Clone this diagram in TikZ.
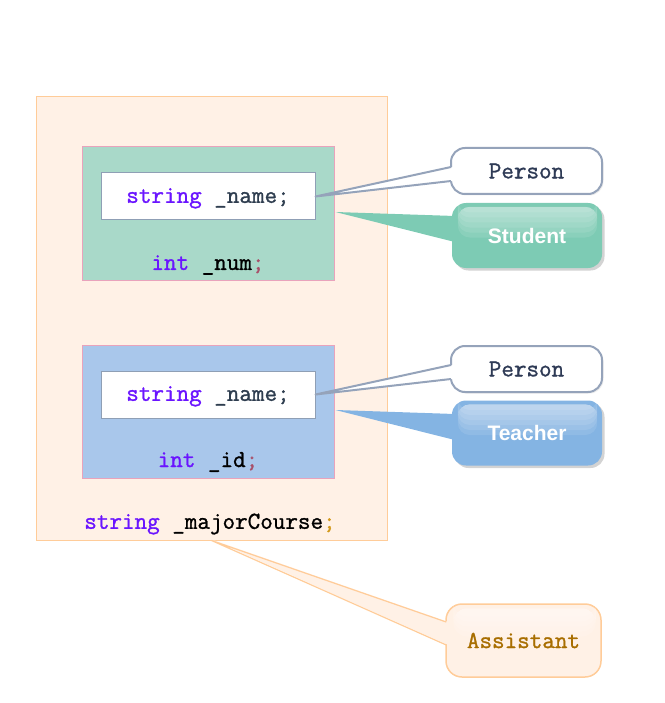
\documentclass[tikz,border=0pt]{standalone}
\usepackage{fontspec}
\setmainfont{Liberation Sans}
\newfontfamily\codefont{Latin Modern Mono}[FakeBold=1.2]
\usepackage{tikz}
\usetikzlibrary{calc,shadows}

\definecolor{kwpurple}{HTML}{6A14FF}
\definecolor{namegray}{HTML}{2E3D4F}
\definecolor{semired}{HTML}{A8506A}
\definecolor{semigold}{HTML}{D39A1C}
\definecolor{outerfill}{HTML}{FFF1E6}
\definecolor{outerline}{HTML}{FFCC99}
\definecolor{boxpink}{HTML}{E9A3BC}
\definecolor{stufill}{HTML}{A9D9C9}
\definecolor{teafill}{HTML}{A9C7EB}
\definecolor{fieldline}{HTML}{8F9FB5}
\definecolor{personline}{HTML}{95A3BA}
\definecolor{persontext}{HTML}{2E3A55}
\definecolor{stububble}{HTML}{7DCBB4}
\definecolor{teabubble}{HTML}{84B4E3}
\definecolor{asstext}{HTML}{A86E00}

\newcommand{\kw}[1]{\textcolor{kwpurple}{#1}}

\begin{document}
\begin{tikzpicture}[x=1pt, y=-1pt,
  code/.style={font=\codefont\fontsize{24.4}{28}\selectfont, inner sep=0pt},
  classbox/.style={draw=boxpink, line width=1pt, minimum width=252pt, minimum height=133pt},
  fieldbox/.style={draw=fieldline, fill=white, line width=1pt, minimum width=214pt, minimum height=47pt,
    code, text depth=2pt},
  bubble/.style={rounded corners=14pt, minimum width=150pt, minimum height=65pt,
    drop shadow={shadow xshift=2.5pt, shadow yshift=-2.5pt, opacity=0.35}},
  personbubble/.style={draw=personline, fill=white, line width=2pt, rounded corners=14pt,
    minimum width=151pt, minimum height=46pt, code, text=persontext,
    drop shadow={shadow xshift=1.5pt, shadow yshift=-1.5pt, opacity=0.15}},
  rolelabel/.style={text=white, font=\bfseries\fontsize{21}{24}\selectfont}]
  \useasboundingbox (0,0) rectangle (664,703);

  % Class boxes
  \node[draw=outerline, fill=outerfill, line width=1pt, minimum width=351pt, minimum height=443pt] (outer) at (211.5,318.5) {};
  \node[classbox, fill=stufill] (sbox) at (208,213.5) {};
  \node[fieldbox] (sname) at (208,196.5) {\kw{string} \textcolor{namegray}{\_name;}};
  \node[code] (snum) at (208,265) {\kw{int} \_num\textcolor{semired}{;}};

  \node[classbox, fill=teafill] (tbox) at (208,411.5) {};
  \node[fieldbox] (tname) at (208,394.5) {\kw{string} \textcolor{namegray}{\_name;}};
  \node[code] (tid) at (208,462) {\kw{int} \_id\textcolor{semired}{;}};

  \node[code] (major) at (210,524) {\kw{string} \_majorCourse\textcolor{semigold}{;}};

  % Callouts
  \node[personbubble] (sperson) at (526.5,171) {Person};
  \node[bubble, fill=stububble] (sstudent) at (527,235.5) {};
  \node[personbubble] (tperson) at (526.5,369) {Person};
  \node[bubble, fill=teabubble] (tteacher) at (527,433) {};
  \node[draw=outerline, fill=outerfill, line width=1.5pt, rounded corners=16pt,
    minimum width=155pt, minimum height=73pt] (assist) at (523.5,640.5) {};

  % glossy tops
  \foreach \b in {sstudent, tteacher} {
    \foreach \k in {0,...,5}
      \fill[white, opacity=0.1, rounded corners=12pt]
        ($(\b.north west)+(6,4)$) rectangle ($(\b.east)+(-5,2-5*\k)$);
  }
  \foreach \k in {0,...,4}
    \fill[white, opacity=0.12, rounded corners=14pt]
      ($(assist.north west)+(8,5)$) rectangle ($(assist.east)+(-6,-4-5*\k)$);
  \node[rolelabel] (stulbl) at (sstudent) {Student};
  \node[rolelabel] (tealbl) at (tteacher) {Teacher};
  \node[code, text=asstext] (asslbl) at (assist) {Assistant};

  % Tails
  \foreach \f/\p in {sname/sperson, tname/tperson} {
    \fill[white] (\f.east) -- ($(\p.west)+(3,-4)$) -- ($(\p.west)+(3,10)$) -- cycle;
    \draw[personline, line width=2pt, line join=round] ($(\p.west)+(1,-4)$) -- (\f.east) -- ($(\p.west)+(1,10)$);
  }
  \fill[stububble] ($(sbox.east)+(1,-1.5)$) -- ($(sstudent.west)+(3,-19.5)$) -- ($(sstudent.west)+(3,6.5)$) -- cycle;
  \fill[teabubble] ($(tbox.east)+(1,-1.5)$) -- ($(tteacher.west)+(3,-19)$) -- ($(tteacher.west)+(3,7)$) -- cycle;
  \fill[outerfill] ($(outer.south)+(0,-1)$) -- ($(assist.west)+(3,-18.5)$) -- ($(assist.west)+(3,4.5)$) -- cycle;
  \draw[outerline, line width=1.2pt] ($(assist.west)+(1,-18.5)$) -- (outer.south) -- ($(assist.west)+(1,4.5)$);
\end{tikzpicture}
\end{document}
